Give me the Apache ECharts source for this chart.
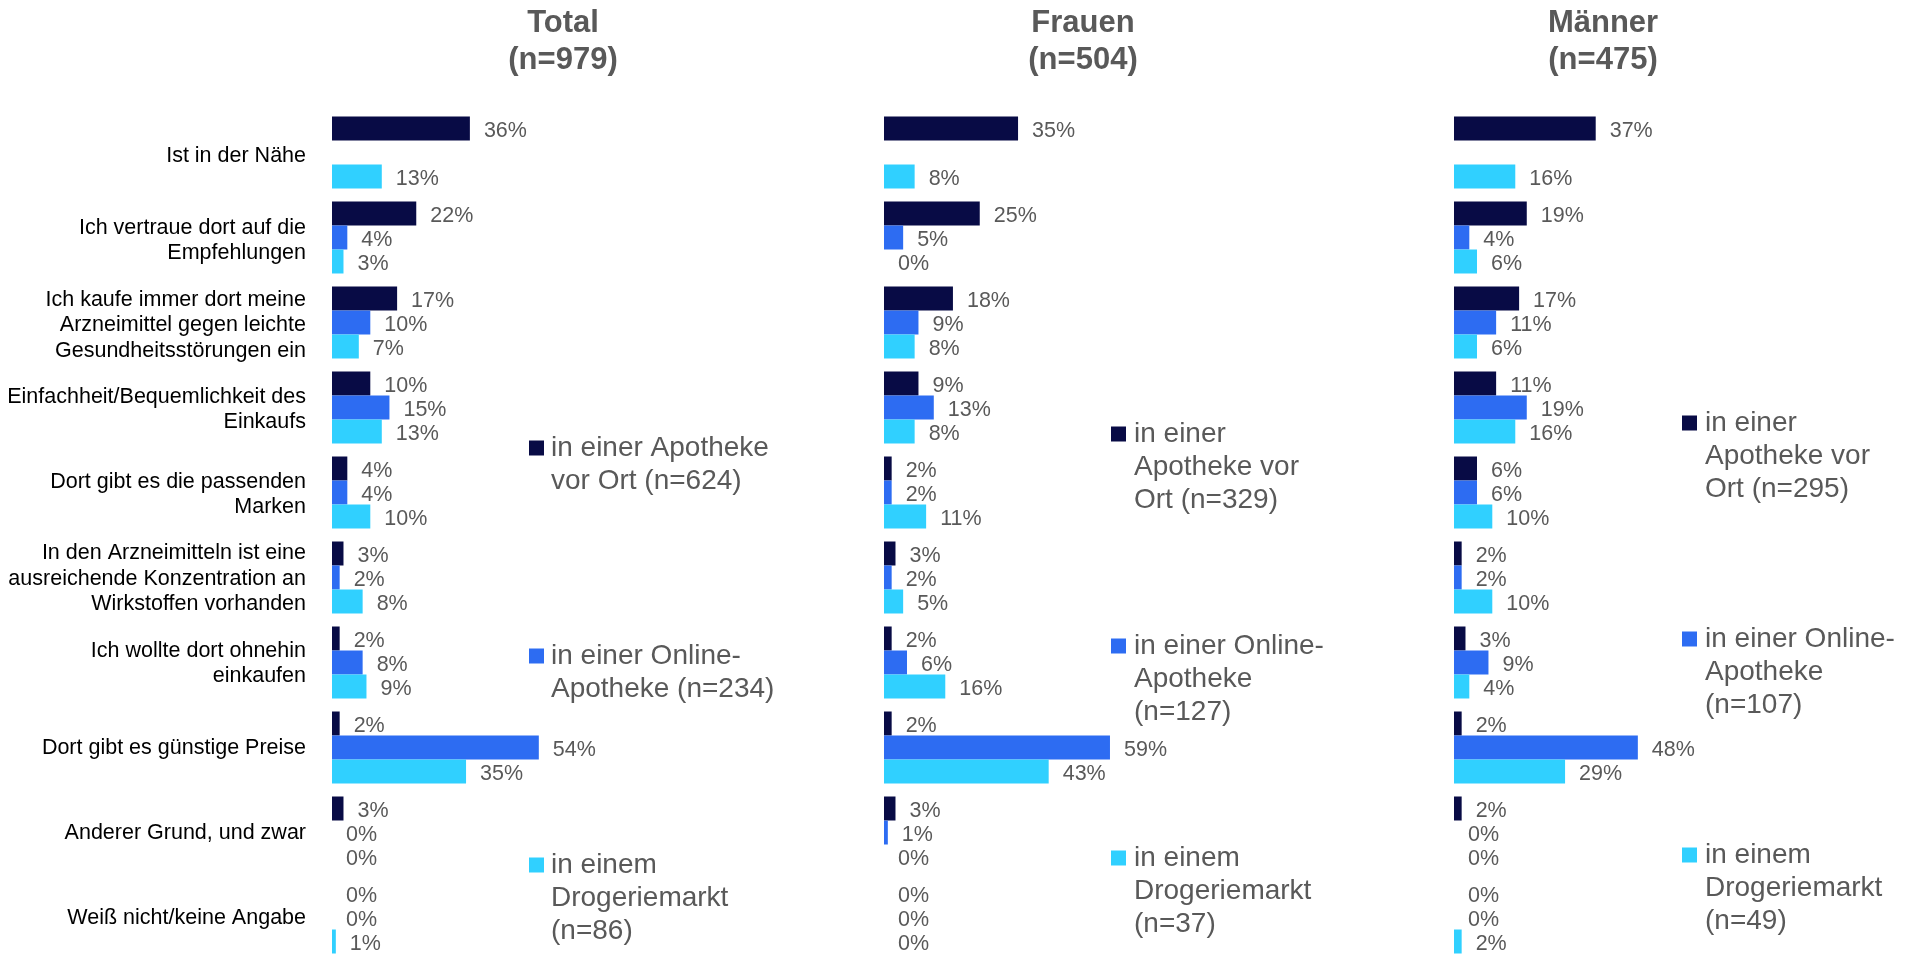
<!DOCTYPE html>
<html>
<head>
<meta charset="utf-8">
<script src="https://cdn.jsdelivr.net/npm/echarts@6/dist/echarts.min.js"></script>
<style>
  html, body { margin: 0; padding: 0; background: #fff; }
  #main { width: 1908px; height: 960px; }
</style>
</head>
<body>
<div id="main"></div>
<script>
// categories (top to bottom)
var categories = [
    'Ist in der Nähe',
    'Ich vertraue dort auf die\nEmpfehlungen',
    'Ich kaufe immer dort meine\nArzneimittel gegen leichte\nGesundheitsstörungen ein',
    'Einfachheit/Bequemlichkeit des\nEinkaufs',
    'Dort gibt es die passenden\nMarken',
    'In den Arzneimitteln ist eine\nausreichende Konzentration an\nWirkstoffen vorhanden',
    'Ich wollte dort ohnehin\neinkaufen',
    'Dort gibt es günstige Preise',
    'Anderer Grund, und zwar',
    'Weiß nicht/keine Angabe'
];

// Total (n=979)
var totalVorOrt   = [36, 22, 17, 10, 4, 3, 2, 2, 3, 0];
var totalOnline   = [null, 4, 10, 15, 4, 2, 8, 54, 0, 0];
var totalDrogerie = [13, 3, 7, 13, 10, 8, 9, 35, 0, 1];

// Frauen (n=504)
var frauenVorOrt   = [35, 25, 18, 9, 2, 3, 2, 2, 3, 0];
var frauenOnline   = [null, 5, 9, 13, 2, 2, 6, 59, 1, 0];
var frauenDrogerie = [8, 0, 8, 8, 11, 5, 16, 43, 0, 0];

// Männer (n=475)
var maennerVorOrt   = [37, 19, 17, 11, 6, 2, 3, 2, 2, 0];
var maennerOnline   = [null, 4, 11, 19, 6, 2, 9, 48, 0, 0];
var maennerDrogerie = [16, 6, 6, 16, 10, 10, 4, 29, 0, 2];

var panelTitles = ['Total\n(n=979)', 'Frauen\n(n=504)', 'Männer\n(n=475)'];

var legendTotal   = ['in einer Apotheke\nvor Ort (n=624)', 'in einer Online-\nApotheke (n=234)', 'in einem\nDrogeriemarkt\n(n=86)'];
var legendFrauen  = ['in einer\nApotheke vor\nOrt (n=329)', 'in einer Online-\nApotheke\n(n=127)', 'in einem\nDrogeriemarkt\n(n=37)'];
var legendMaenner = ['in einer\nApotheke vor\nOrt (n=295)', 'in einer Online-\nApotheke\n(n=107)', 'in einem\nDrogeriemarkt\n(n=49)'];

var colors = ['#080b45', '#2d6cf2', '#30d0ff'];
var FONT = '"Liberation Sans", Arial, sans-serif';

var panels = [
    {data: [totalVorOrt, totalOnline, totalDrogerie], legend: legendTotal, axisX: 332, titleX: 558,
        markX: 529, textX: 551, legendY: [448, 656, 865]},
    {data: [frauenVorOrt, frauenOnline, frauenDrogerie], legend: legendFrauen, axisX: 884, titleX: 1078,
        markX: 1111, textX: 1134, legendY: [434, 646, 858]},
    {data: [maennerVorOrt, maennerOnline, maennerDrogerie], legend: legendMaenner, axisX: 1454, titleX: 1598,
        markX: 1682, textX: 1705, legendY: [423, 639, 855]}
];

var myChart = echarts.init(document.getElementById('main'), null, {renderer: 'canvas'});

var grids = [], xAxes = [], yAxes = [], series = [], titles = [], graphics = [];
var seriesNames = ['in einer Apotheke vor Ort', 'in einer Online-Apotheke', 'in einem Drogeriemarkt'];

panels.forEach(function (p, i) {
    grids.push({left: p.axisX, top: 110, width: 229.8, height: 858, containLabel: false});
    xAxes.push({gridIndex: i, type: 'value', min: 0, max: 60, show: false});
    yAxes.push({
        gridIndex: i, type: 'category', inverse: true, data: categories,
        axisLine: {show: false}, axisTick: {show: false}, splitLine: {show: false},
        axisLabel: {show: false}
    });
    titles.push({
        text: panelTitles[i], left: p.titleX, top: 0, textAlign: 'center',
        textStyle: {fontSize: 31, fontWeight: 'bold', color: '#595959', lineHeight: 37, fontFamily: FONT}
    });
    p.data.forEach(function (vals, k) {
        series.push({
            name: seriesNames[k], type: 'bar', xAxisIndex: i, yAxisIndex: i,
            data: vals, barWidth: 24, barGap: '0%',
            itemStyle: {color: colors[k]},
            label: {
                show: true, position: 'right', distance: 14, offset: [0, 3], formatter: '{c}%',
                color: '#595959', fontSize: 21.5, fontFamily: FONT
            },
            animation: false
        });
        // legend marker + text
        graphics.push({
            type: 'rect', left: p.markX, top: p.legendY[k] - 7.5,
            shape: {width: 15, height: 15}, style: {fill: colors[k]}
        });
        graphics.push({
            type: 'text', left: p.textX, top: p.legendY[k] - 16,
            style: {text: p.legend[k], fill: '#595959', font: '28px ' + FONT, lineHeight: 33}
        });
    });
});

// category labels on their own axis, nudged a little lower like the original
grids.push({left: 332, top: 113.5, width: 229.8, height: 858});
xAxes.push({gridIndex: 3, type: 'value', min: 0, max: 60, show: false});
yAxes.push({
    gridIndex: 3, type: 'category', inverse: true, data: categories,
    axisLine: {show: false}, axisTick: {show: false}, splitLine: {show: false},
    axisLabel: {
        margin: 26, color: '#000', fontSize: 21.5, lineHeight: 25.5,
        fontFamily: FONT, align: 'right'
    }
});

var option = {
    backgroundColor: '#fff',
    animation: false,
    title: titles,
    grid: grids,
    xAxis: xAxes,
    yAxis: yAxes,
    series: series,
    graphic: graphics
};
myChart.setOption(option);
</script>
</body>
</html>
